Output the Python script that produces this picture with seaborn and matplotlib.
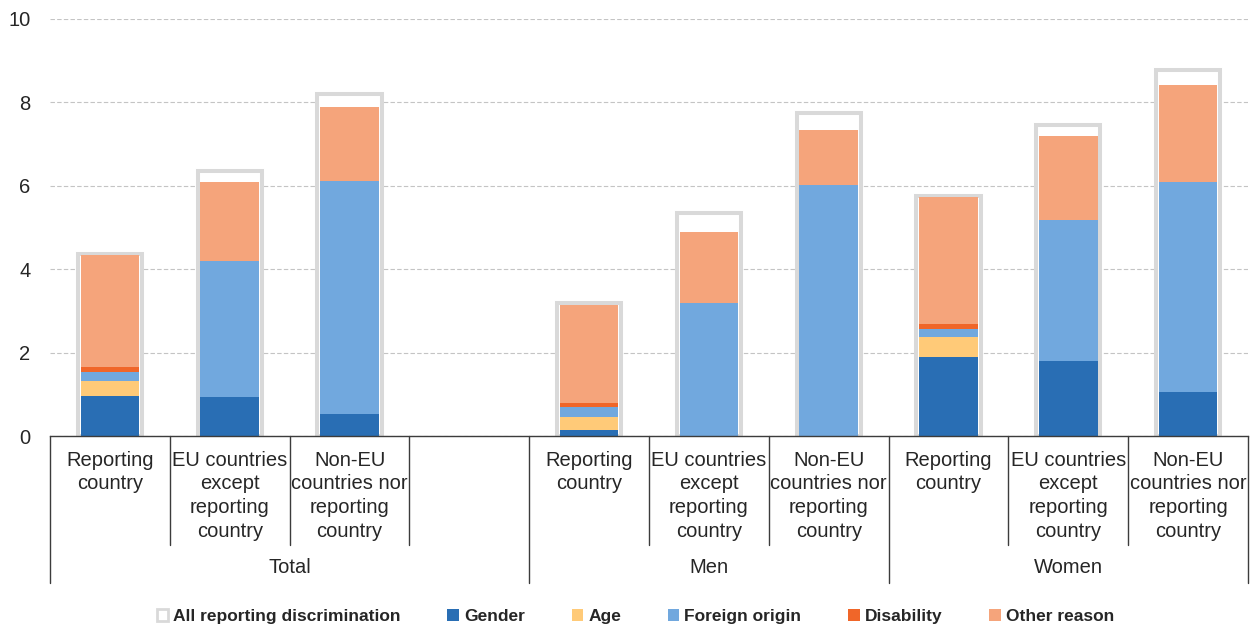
import numpy as np
import pandas as pd
import matplotlib
matplotlib.use("Agg")
import matplotlib.pyplot as plt
from matplotlib.patches import Patch
from matplotlib.transforms import blended_transform_factory
import seaborn as sns

# ---- data -------------------------------------------------------------
groups = ["Total", "Men", "Women"]
origins = [
    "Reporting\ncountry",
    "EU countries\nexcept\nreporting\ncountry",
    "Non-EU\ncountries nor\nreporting\ncountry",
]

all_reporting = [4.36, 6.36, 8.19, 3.19, 5.35, 7.74, 5.76, 7.45, 8.78]
gender = [0.96, 0.93, 0.53, 0.14, 0.00, 0.00, 1.90, 1.80, 1.05]
age = [0.36, 0.00, 0.00, 0.32, 0.00, 0.00, 0.47, 0.00, 0.00]
foreign_origin = [0.22, 3.27, 5.59, 0.24, 3.19, 6.03, 0.19, 3.37, 5.04]
disability = [0.12, 0.00, 0.00, 0.10, 0.00, 0.00, 0.13, 0.00, 0.00]
other_reason = [2.68, 1.88, 1.76, 2.34, 1.70, 1.30, 3.05, 2.03, 2.32]

series_names = ["Gender", "Age", "Foreign origin", "Disability", "Other reason"]
series_values = [gender, age, foreign_origin, disability, other_reason]
series_colors = ["#296EB4", "#FFCA78", "#71A8DE", "#F06629", "#F5A47B"]
outline_color = "#D9D9D9"

# ---- table ------------------------------------------------------------
rows = []
for gi, g in enumerate(groups):
    for oi, o in enumerate(origins):
        k = gi * 3 + oi
        row = {"slot": f"{g}|{oi}", "group": g, "origin": o,
               "All reporting discrimination": all_reporting[k]}
        for name, vals in zip(series_names, series_values):
            row[name] = vals[k]
        rows.append(row)
df = pd.DataFrame(rows)

# running totals for the stacked segments
cum = np.zeros(len(df))
for name in series_names:
    cum = cum + df[name].to_numpy()
    df["cum " + name] = cum

# slot order: the Total block carries one empty slot after its bars
slot_order = ["Total|0", "Total|1", "Total|2", "gap",
              "Men|0", "Men|1", "Men|2",
              "Women|0", "Women|1", "Women|2"]
group_spans = {"Total": (0, 3), "Men": (4, 6), "Women": (7, 9)}
group_blocks = {"Total": (-0.5, 3.5), "Men": (3.5, 6.5), "Women": (6.5, 9.5)}

# ---- figure -----------------------------------------------------------
sns.set_theme(style="white")
plt.rcParams["font.family"] = ["Liberation Sans", "DejaVu Sans"]

fig = plt.figure(figsize=(12.53, 6.28), dpi=100)
ax = fig.add_axes([50 / 1253, 1 - 436 / 628, 1198 / 1253, 417 / 628])

sns.barplot(data=df, x="slot", y="All reporting discrimination", order=slot_order,
            color="white", edgecolor=outline_color, linewidth=2.9,
            width=0.535, saturation=1, errorbar=None, ax=ax, zorder=2)

for name, col in reversed(list(zip(series_names, series_colors))):
    sns.barplot(data=df, x="slot", y="cum " + name, order=slot_order,
                color=col, width=0.49, saturation=1, errorbar=None,
                linewidth=0, ax=ax, zorder=3)

ax.set_xlim(-0.5, len(slot_order) - 0.5)
ax.set_ylim(0, 10)
ax.set_yticks(np.arange(0, 11, 2))
ax.set_yticklabels([str(v) for v in range(0, 11, 2)], fontsize=14.5, color="#262626")
ax.tick_params(axis="y", length=0, pad=14)
ax.tick_params(axis="x", length=0)
ax.set_xticklabels([])
ax.set_xlabel("")
ax.set_ylabel("")
ax.grid(axis="y", color="#C4C4C4", linestyle=(0, (4, 2)), linewidth=0.8)
ax.grid(axis="x", visible=False)
ax.set_axisbelow(True)
for s in ["top", "right", "left"]:
    ax.spines[s].set_visible(False)
ax.spines["bottom"].set_color("#3C3C3C")
ax.spines["bottom"].set_linewidth(1.0)
ax.spines["bottom"].set_zorder(5)

# ---- two-level category axis -------------------------------------------
trans = blended_transform_factory(ax.transData, ax.transAxes)
line_kw = dict(color="#3C3C3C", linewidth=1.0, transform=trans, clip_on=False)
short_bottom, long_bottom = -0.262, -0.352

long_edges = sorted({e for span in group_blocks.values() for e in span})
for e in long_edges:
    ax.plot([e, e], [0, long_bottom], **line_kw)
for i in range(len(slot_order) - 1):
    e = i + 0.5
    if e not in long_edges:
        ax.plot([e, e], [0, short_bottom], **line_kw)

for g in groups:
    start, _ = group_spans[g]
    for oi, o in enumerate(origins):
        ax.text(start + oi, -0.035, o, transform=trans, ha="center", va="top",
                fontsize=14.5, color="#262626", linespacing=1.32)
    lo, hi = group_blocks[g]
    ax.text((lo + hi) / 2, -0.315, g, transform=trans, ha="center", va="center",
            fontsize=14.5, color="#262626")

# ---- legend ------------------------------------------------------------
handles = [Patch(facecolor="white", edgecolor=outline_color, linewidth=2.0,
                 label="All reporting discrimination")]
handles += [Patch(facecolor=c, edgecolor="none", label=n)
            for n, c in zip(series_names, series_colors)]
fig.legend(handles=handles, loc="center", bbox_to_anchor=(0.507, 0.018),
           ncol=6, frameon=False, handlelength=0.65, handleheight=0.65,
           handletextpad=0.3, columnspacing=2.7,
           prop={"weight": "bold", "size": 12.5})

fig.savefig("out.png", dpi=100)
